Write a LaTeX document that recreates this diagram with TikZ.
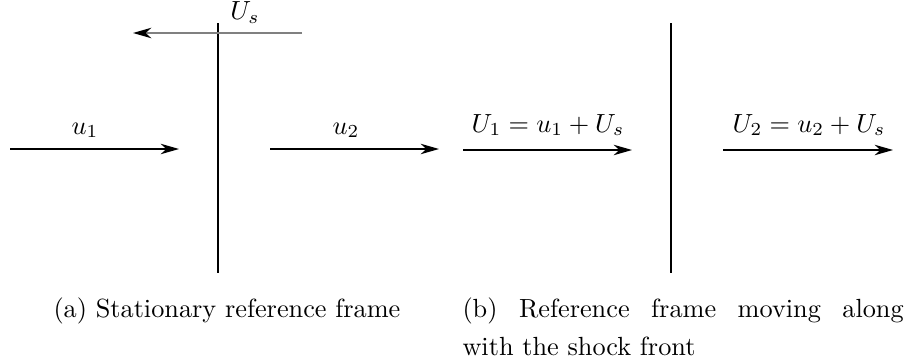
\documentclass[tikz,border=0pt]{standalone}
\usetikzlibrary{arrows.meta}
\begin{document}
\begin{tikzpicture}[x=0.38079pt,y=-0.38079pt,
  flow/.style={line width=0.6pt,-{Stealth[length=7pt,width=4pt,inset=2.2pt]}},
  shockline/.style={line width=1.1pt},
  lbl/.style={anchor=base,inner sep=0pt},
  captext/.style={anchor=base west,inner sep=0pt,font=\normalsize}]
\useasboundingbox (0,0) rectangle (906,360);
% ---------- panel (a)
\coordinate (sa1) at (218,23);
\coordinate (sa2) at (218,273);
\draw[shockline] (sa1) -- (sa2);
\coordinate (ts) at (302,33);
\coordinate (te) at (133,33);
\draw[flow,black!50,-{Stealth[length=7pt,width=4pt,inset=2.2pt,black]}] (ts) -- (te);
\node[lbl] (us) at (245,20) {$U_s$};
\coordinate (a1s) at (10,149);
\coordinate (a1e) at (179,149);
\draw[flow] (a1s) -- (a1e);
\node[lbl] (u1) at (85,134) {$u_1$};
\coordinate (a2s) at (270,149);
\coordinate (a2e) at (439,149);
\draw[flow] (a2s) -- (a2e);
\node[lbl] (u2) at (346,134) {$u_2$};
\node[captext] (capa) at (53,317) {(a) Stationary reference frame};
% ---------- panel (b)
\coordinate (sb1) at (671,23);
\coordinate (sb2) at (671,273);
\draw[shockline] (sb1) -- (sb2);
\coordinate (b1s) at (463,150);
\coordinate (b1e) at (632,150);
\draw[flow] (b1s) -- (b1e);
\node[lbl] (U1) at (548,132) {$U_1=u_1+U_s$};
\coordinate (b2s) at (723,150);
\coordinate (b2e) at (893,150);
\draw[flow] (b2s) -- (b2e);
\node[lbl] (U2) at (809,132) {$U_2=u_2+U_s$};
\node[captext,text width=168pt,align=justify,font={\normalsize\baselineskip=14.8pt}] (capb) at (462,317)
  {(b) Reference frame moving along\linebreak with the shock front};
\end{tikzpicture}
\end{document}
